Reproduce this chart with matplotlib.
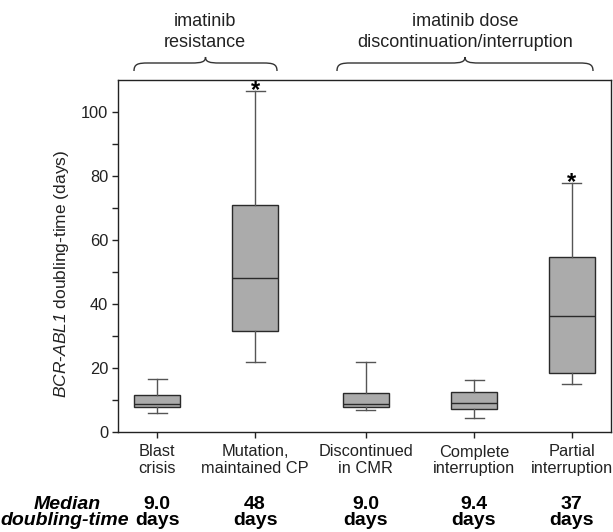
import matplotlib
matplotlib.use("Agg")
import matplotlib.pyplot as plt
from matplotlib.path import Path
from matplotlib.patches import PathPatch
from matplotlib.transforms import Affine2D

# ---- data ----
categories = ["Blast\ncrisis", "Mutation,\nmaintained CP", "Discontinued\nin CMR",
              "Complete\ninterruption", "Partial\ninterruption"]
whisker_lo = [5.9, 21.8, 6.9, 4.3, 14.9]
q1 = [7.7, 31.7, 7.8, 7.3, 18.4]
median = [8.8, 48.2, 8.75, 9.2, 36.4]
q3 = [11.7, 71.0, 12.2, 12.6, 54.8]
whisker_hi = [16.6, 106.5, 22.0, 16.3, 77.7]
starred = [False, True, False, False, True]
median_labels = ["9.0", "48", "9.0", "9.4", "37"]
group_labels = [("imatinib", "resistance"), ("imatinib dose", "discontinuation/interruption")]

W, H = 613, 532
plt.rcParams["font.family"] = ["Liberation Sans", "DejaVu Sans"]
plt.rcParams["mathtext.fontset"] = "custom"
plt.rcParams["mathtext.rm"] = "Liberation Sans:italic"   # so digits in math come out italic too
plt.rcParams["mathtext.it"] = "Liberation Sans:italic"

fig = plt.figure(figsize=(W / 100, H / 100), dpi=100)
px = Affine2D().scale(1 / W, -1 / H).translate(0, 1) + fig.transFigure  # pixel coords from top-left

ax = fig.add_axes([118 / W, 100 / H, 493 / W, 352 / H])
pos = [0.39, 1.37, 2.475, 3.56, 4.536]   # x positions (units of 100 px)

stats = [dict(med=m, q1=a, q3=b, whislo=lo, whishi=hi, fliers=[])
         for m, a, b, lo, hi in zip(median, q1, q3, whisker_lo, whisker_hi)]
ax.bxp(stats, positions=pos, widths=0.46, capwidths=0.19, patch_artist=True,
       boxprops=dict(facecolor="#ababab", edgecolor="#2a2a2a", linewidth=1.0),
       medianprops=dict(color="#2a2a2a", linewidth=1.0),
       whiskerprops=dict(color="#555555", linewidth=1.0),
       capprops=dict(color="#555555", linewidth=1.0))

for x, hi, s in zip(pos, whisker_hi, starred):
    if s:
        ax.annotate("*", (x, hi), xytext=(0, -4), textcoords="offset points",
                    ha="center", va="baseline", fontsize=17, fontweight="bold")

ax.set_xlim(0, 4.93)
ax.set_ylim(0, 110)
ax.set_yticks(range(0, 101, 20))
ax.set_yticks(range(10, 101, 20), minor=True)
ax.set_xticks(pos)
ax.set_xticklabels(categories, linespacing=1.1)
ax.tick_params(axis="both", direction="out", length=4, width=1, labelsize=11.8,
               colors="#222222", pad=3)
ax.tick_params(axis="x", pad=5)
ax.tick_params(axis="y", which="minor", direction="out", length=4, width=1, color="#222222")
ax.tick_params(top=False, right=False)
for sp in ax.spines.values():
    sp.set_color("#222222")
    sp.set_linewidth(1.0)

ax.set_ylabel(r"$BCR$-$ABL1$ doubling-time (days)", fontsize=12.5, color="#222222")
ax.yaxis.set_label_coords(-0.095, 0.449)

# group braces
def brace(x0, x1, y_end=71, y_bar=63, y_tip=57):
    xc = (x0 + x1) / 2
    verts = [(x0, y_end), (x0, y_bar + 1), (x0 + 4, y_bar), (x0 + 14, y_bar),
             (xc - 14, y_bar),
             (xc - 4, y_bar), (xc, y_bar - 1), (xc, y_tip),
             (xc, y_bar - 1), (xc + 4, y_bar), (xc + 14, y_bar),
             (x1 - 14, y_bar),
             (x1 - 4, y_bar), (x1, y_bar + 1), (x1, y_end)]
    codes = [Path.MOVETO, Path.CURVE4, Path.CURVE4, Path.CURVE4, Path.LINETO,
             Path.CURVE4, Path.CURVE4, Path.CURVE4, Path.CURVE4, Path.CURVE4, Path.CURVE4,
             Path.LINETO, Path.CURVE4, Path.CURVE4, Path.CURVE4]
    fig.add_artist(PathPatch(Path(verts, codes), transform=px, fill=False,
                             edgecolor="#333333", linewidth=1.0))

brace(134, 277)
brace(337, 593)
for (l1, l2), xc in zip(group_labels, [205, 465]):
    fig.text(xc, 26, l1, transform=px, ha="center", va="baseline", fontsize=13, color="#222222")
    fig.text(xc, 47, l2, transform=px, ha="center", va="baseline", fontsize=13, color="#222222")

# median row
fig.text(67, 509, "Median", transform=px, ha="center", va="baseline",
         fontsize=14, fontweight="bold", fontstyle="italic")
fig.text(65, 525, "doubling-time", transform=px, ha="center", va="baseline",
         fontsize=14, fontweight="bold", fontstyle="italic")
for x, m in zip(pos, median_labels):
    xp = 118 + x * 100
    fig.text(xp, 509, m, transform=px, ha="center", va="baseline", fontsize=14, fontweight="bold")
    fig.text(xp, 525, "days", transform=px, ha="center", va="baseline", fontsize=14, fontweight="bold")

fig.savefig("out.png", dpi=100)
